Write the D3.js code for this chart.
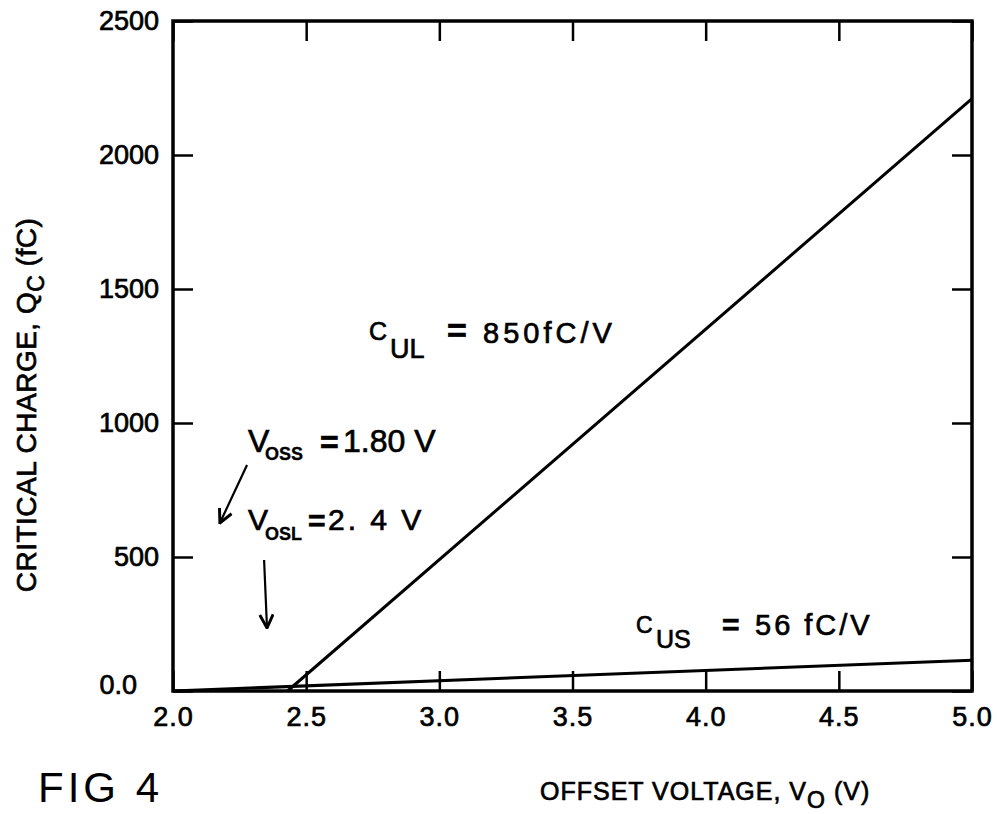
<!DOCTYPE html>
<html>
<head>
<meta charset="utf-8">
<script src="https://cdn.jsdelivr.net/npm/d3@7"></script>
<style>
  html, body { margin: 0; padding: 0; background: #fff; }
  svg text { font-family: "Liberation Sans", Arial, sans-serif; fill: #000; stroke: #000; stroke-width: 0.7px; }
</style>
</head>
<body>
<svg id="chart" width="997" height="814"></svg>
<script>
// ---- data ----
const xTicks = [2.0, 2.5, 3.0, 3.5, 4.0, 4.5, 5.0];
const xTickLabels = ["2.0", "2.5", "3.0", "3.5", "4.0", "4.5", "5.0"];
const yTicks = [0, 500, 1000, 1500, 2000, 2500];
const yTickLabels = ["0.0", "500", "1000", "1500", "2000", "2500"];
const culX = [2.43, 5.0];
const culY = [0, 2210];
const cusX = [2.0, 5.0];
const cusY = [0, 115];
// arrows (data coordinates): [x1, y1, x2, y2]
const arrowOSS = [2.278, 843, 2.176, 627];
const arrowOSL = [2.342, 489, 2.353, 235];

// ---- layout ----
const svg = d3.select("#chart");
const L = 173, R = 972, T = 21, B = 691;
const x = d3.scaleLinear().domain([2.0, 5.0]).range([L, R]);
const y = d3.scaleLinear().domain([0, 2500]).range([B, T]);

const defs = svg.append("defs");
defs.append("marker").attr("id", "arr").attr("viewBox", "0 0 12 12")
  .attr("refX", 11).attr("refY", 6).attr("markerWidth", 16).attr("markerHeight", 16)
  .attr("markerUnits", "userSpaceOnUse").attr("orient", "auto")
  .append("path").attr("d", "M1,1 L11,6 L1,11").attr("fill", "none")
  .attr("stroke", "#000").attr("stroke-width", 2.2);

// axes (ticks inward)
const tickLen = 20;
const fmtX = (d) => xTickLabels[xTicks.indexOf(d)];
const fmtY = (d) => yTickLabels[yTicks.indexOf(d)];

const gB = svg.append("g").attr("transform", `translate(0,${B})`)
  .call(d3.axisBottom(x).tickValues(xTicks).tickSizeInner(-tickLen).tickSizeOuter(0).tickPadding(16).tickFormat(fmtX));
const gT = svg.append("g").attr("transform", `translate(0,${T})`)
  .call(d3.axisTop(x).tickValues(xTicks).tickSizeInner(-tickLen).tickSizeOuter(0).tickFormat(""));
const gL = svg.append("g").attr("transform", `translate(${L},0)`)
  .call(d3.axisLeft(y).tickValues(yTicks).tickSizeInner(-tickLen).tickSizeOuter(0).tickPadding(14).tickFormat(fmtY));
const gR = svg.append("g").attr("transform", `translate(${R},0)`)
  .call(d3.axisRight(y).tickValues(yTicks).tickSizeInner(-tickLen).tickSizeOuter(0).tickFormat(""));

[gB, gT, gL, gR].forEach(g => {
  g.select(".domain").remove();
  g.selectAll(".tick line").attr("stroke", "#000").attr("stroke-width", 2.5);
  g.selectAll("text").attr("fill", "#000").style("font-family", '"Liberation Sans", Arial, sans-serif');
});
gB.selectAll("text").attr("font-size", 27).attr("letter-spacing", 1);
gL.selectAll("text").attr("font-size", 27).attr("dx", d => d === 0 ? -22 : 0)
  .attr("dy", d => d === 0 ? "0.1em" : "0.32em");

// frame
svg.append("rect").attr("x", L).attr("y", T).attr("width", R - L).attr("height", B - T)
  .attr("fill", "none").attr("stroke", "#000").attr("stroke-width", 3.5);

// lines
const line = d3.line().x(d => x(d[0])).y(d => y(d[1]));
svg.append("path").datum(culX.map((v, i) => [v, culY[i]])).attr("d", line)
  .attr("fill", "none").attr("stroke", "#000").attr("stroke-width", 3);
svg.append("path").datum(cusX.map((v, i) => [v, cusY[i]])).attr("d", line)
  .attr("fill", "none").attr("stroke", "#000").attr("stroke-width", 3);

// arrows
[arrowOSS, arrowOSL].forEach(a => {
  svg.append("line").attr("x1", x(a[0])).attr("y1", y(a[1])).attr("x2", x(a[2])).attr("y2", y(a[3]))
    .attr("stroke", "#000").attr("stroke-width", 2.2).attr("marker-end", "url(#arr)");
});

// helper for text
function txt(s, px, py, size, opts = {}) {
  const t = svg.append("text").attr("x", px).attr("y", py).attr("font-size", size).text(s);
  if (opts.anchor) t.attr("text-anchor", opts.anchor);
  if (opts.weight) t.attr("font-weight", opts.weight);
  if (opts.ls !== undefined) t.attr("letter-spacing", opts.ls);
  if (opts.sw !== undefined) t.style("stroke-width", opts.sw + "px");
  return t;
}

// C_UL annotation
txt("C", 369, 340, 25);
txt("UL", 390, 358, 27);
txt("=", 447, 342, 34, { weight: "bold" });
txt("850fC/V", 483, 343, 29, { ls: 4 });

// V_OSS annotation
txt("V", 248, 452, 32);
txt("OSS", 265, 460, 18, { weight: "bold", sw: 0.3 });
txt("=", 320, 453, 32, { weight: "bold" });
txt("1.80 V", 343, 452, 32, { ls: 0 });

// V_OSL annotation
txt("V", 248, 530, 30);
txt("OSL", 265, 540, 18, { weight: "bold", sw: 0.3 });
txt("=", 308, 531, 30, { weight: "bold" });
txt("2. 4  V", 328, 530, 30, { ls: 3 });

// C_US annotation
txt("C", 636, 633, 23);
txt("US", 656, 648, 25);
txt("=", 722, 635, 30, { weight: "bold" });
txt("56 fC/V", 755, 635, 29, { ls: 3 });

// axis titles
const xt = svg.append("text").attr("x", 540).attr("y", 800).attr("font-size", 25).attr("letter-spacing", 1);
xt.append("tspan").text("OFFSET  VOLTAGE, V");
xt.append("tspan").attr("dy", 8).attr("font-size", 23).text("O");
xt.append("tspan").attr("dy", -8).text("  (V)");

const yt = svg.append("text").attr("transform", "translate(36,405) rotate(-90)")
  .attr("text-anchor", "middle").attr("font-size", 28).attr("letter-spacing", 0.5);
yt.append("tspan").text("CRITICAL CHARGE, Q");
yt.append("tspan").attr("dy", 8).attr("font-size", 23).text("C");
yt.append("tspan").attr("dy", -8).text(" (fC)");

// figure label
txt("FIG 4", 38, 802, 42, { ls: 4, sw: 0 });
</script>
</body>
</html>
